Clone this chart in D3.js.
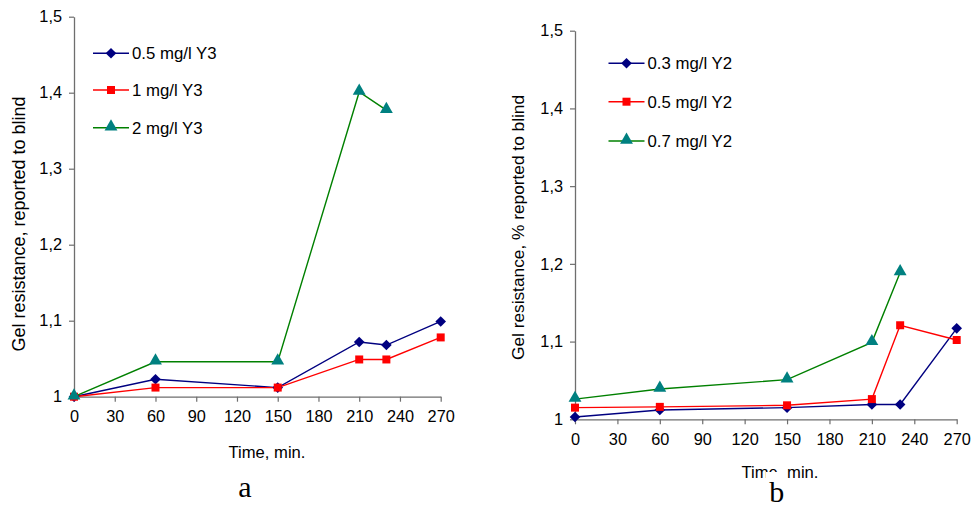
<!DOCTYPE html>
<html>
<head>
<meta charset="utf-8">
<script src="https://cdn.jsdelivr.net/npm/d3@7"></script>
<style>
  html, body { margin: 0; padding: 0; background: #fff; }
  svg { display: block; }
  text { font-family: "Liberation Sans", Arial, sans-serif; fill: #000; }
</style>
</head>
<body>
<svg id="chart" width="973" height="507"></svg>
<script>
// ---- data ----
const timesA = [0, 60, 150, 210, 230, 270];
const seriesA_05 = [1.000, 1.023, 1.012, 1.072, 1.068, 1.099];
const seriesA_1  = [1.000, 1.012, 1.012, 1.049, 1.049, 1.078];
const seriesA_2  = [1.000, 1.046, 1.046, 1.401, 1.377];
const namesA = ["0.5 mg/l Y3", "1 mg/l Y3", "2 mg/l Y3"];

const timesB = [0, 60, 150, 210, 230, 270];
const seriesB_03 = [1.003, 1.012, 1.015, 1.019, 1.019, 1.117];
const seriesB_05 = [1.015, 1.016, 1.018, 1.026, 1.121, 1.102];
const seriesB_07 = [1.026, 1.039, 1.051, 1.099, 1.189];
const namesB = ["0.3 mg/l Y2", "0.5 mg/l Y2", "0.7 mg/l Y2"];

const xTicks = [0, 30, 60, 90, 120, 150, 180, 210, 240, 270];
const yTicks = [1.0, 1.1, 1.2, 1.3, 1.4, 1.5];
const yTickLabels = ["1", "1,1", "1,2", "1,3", "1,4", "1,5"];
const xTitle = "Time, min.";
const yTitleA = "Gel resistance, reported to blind";
const yTitleB = "Gel resistance, % reported to blind";

const styles = [
  { line: "#000080", fill: "#000080", sym: d3.symbolDiamond2, size: 72 },
  { line: "#FF0000", fill: "#FF0000", sym: d3.symbolSquare, size: 64 },
  { line: "#008000", fill: "#008080", sym: d3.symbolTriangle, size: 72 }
];

const svg = d3.select("#chart");

function panel(cfg) {
  const x = d3.scaleLinear().domain([0, 270]).range([cfg.x0, cfg.x1]);
  const y = d3.scaleLinear().domain([1, 1.5]).range([cfg.y0, cfg.y1]);
  const g = svg.append("g");

  // axes
  const ax = g.append("g").attr("transform", `translate(0,${cfg.y0})`)
    .call(d3.axisBottom(x).tickValues(xTicks).tickSize(5).tickPadding(5).tickSizeOuter(0));
  const ay = g.append("g").attr("transform", `translate(${cfg.x0},0)`)
    .call(d3.axisLeft(y).tickValues(yTicks).tickSize(5).tickPadding(7).tickSizeOuter(0)
      .tickFormat((d, i) => yTickLabels[i]));
  [ax, ay].forEach(a => {
    a.select(".domain").attr("stroke", "#6e6e6e").attr("stroke-width", 1.3);
    a.selectAll(".tick line").attr("stroke", "#6e6e6e").attr("stroke-width", 1.2);
    a.selectAll(".tick text").attr("font-size", 16.3).attr("font-family", "Liberation Sans, Arial, sans-serif").attr("fill", "#000");
  });
  ax.selectAll(".tick text").attr("dy", "0.95em");

  const line = d3.line().x(d => x(d[0])).y(d => y(d[1]));
  cfg.series.forEach((vals, si) => {
    const pts = vals.map((v, i) => [cfg.times[i], v]);
    const st = styles[si];
    g.append("path").attr("d", line(pts)).attr("fill", "none")
      .attr("stroke", st.line).attr("stroke-width", 1.4);
  });
  cfg.series.forEach((vals, si) => {
    const st = styles[si];
    const pts = vals.map((v, i) => [cfg.times[i], v]);
    g.selectAll(null).data(pts).enter().append("path")
      .attr("d", d3.symbol().type(st.sym).size(st.size))
      .attr("transform", d => `translate(${x(d[0])},${y(d[1]) + (si === 2 ? -1 : 0)})`)
      .attr("fill", st.fill);
  });

  // legend
  cfg.names.forEach((n, i) => {
    const st = styles[i];
    const ly = cfg.legY[i];
    g.append("line").attr("x1", cfg.legX).attr("x2", cfg.legX + 36)
      .attr("y1", ly).attr("y2", ly).attr("stroke", st.line).attr("stroke-width", 1.4);
    g.append("path").attr("d", d3.symbol().type(st.sym).size(st.size))
      .attr("transform", `translate(${cfg.legX + 18},${ly + (i === 2 ? -1 : 0)})`).attr("fill", st.fill);
    g.append("text").attr("x", cfg.legX + 39).attr("y", ly).attr("dy", "0.36em")
      .attr("font-size", 16.8).text(n);
  });

  // titles
  g.append("text").attr("x", cfg.xtX).attr("y", cfg.xtY).attr("text-anchor", "middle")
    .attr("font-size", 16.6).text(xTitle);
  g.append("text").attr("transform", `translate(${cfg.ytX},${cfg.ytY}) rotate(-90)`)
    .attr("text-anchor", "middle").attr("dy", "0.36em")
    .attr("font-size", cfg.ytSize).text(cfg.yTitle);
  if (cfg.capRect) {
    g.append("rect").attr("x", cfg.capRect[0]).attr("y", cfg.capRect[1])
      .attr("width", cfg.capRect[2]).attr("height", cfg.capRect[3]).attr("fill", "#fff");
  }
  g.append("text").attr("x", cfg.capX).attr("y", cfg.capY).attr("text-anchor", "middle")
    .style("font-family", "'Liberation Serif', 'Times New Roman', serif")
    .attr("font-size", 30).text(cfg.cap);
}

panel({
  x0: 74, x1: 440.7, y0: 396.7, y1: 16.7,
  times: timesA, series: [seriesA_05, seriesA_1, seriesA_2], names: namesA,
  legX: 93, legY: [53.3, 90, 127.7],
  xtX: 267, xtY: 457.5, ytX: 18.5, ytY: 224, ytSize: 18, yTitle: yTitleA,
  cap: "a", capX: 245, capY: 497
});

panel({
  x0: 575, x1: 956.7, y0: 419.3, y1: 30.7,
  times: timesB, series: [seriesB_03, seriesB_05, seriesB_07], names: namesB,
  legX: 608.5, legY: [63.3, 101.7, 141],
  xtX: 780, xtY: 478, ytX: 518, ytY: 227.5, ytSize: 17.3, yTitle: yTitleB,
  cap: "b", capX: 776.7, capY: 502, capRect: [766, 472, 21, 35]
});
</script>
</body>
</html>
